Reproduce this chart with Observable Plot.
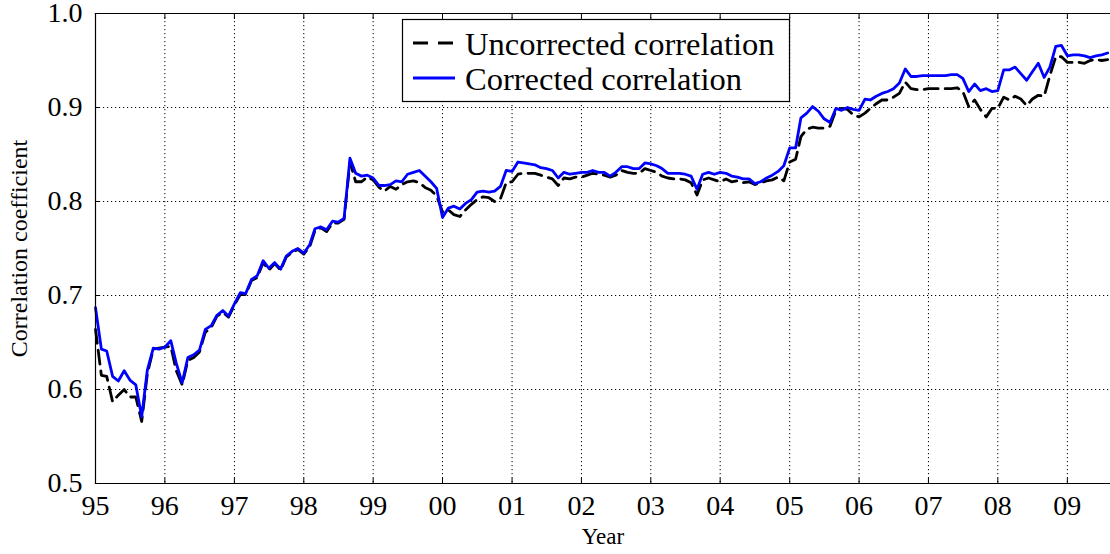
<!DOCTYPE html>
<html><head><meta charset="utf-8">
<script src="https://cdn.jsdelivr.net/npm/d3@7"></script>
<script src="https://cdn.jsdelivr.net/npm/@observablehq/plot@0.6"></script>
<style>
html,body{margin:0;padding:0;background:#fff;}
#wrap{position:relative;width:1110px;height:554px;font-family:"Liberation Serif",serif;}
#wrap svg.overlay{position:absolute;left:0;top:0;pointer-events:none;}
</style></head><body><div id="wrap"></div>
<script>
// Monthly values, Jan 1995 .. Aug 2009
const startYear = 1995;
const corrected = [
  0.687,0.643,0.641,0.614,0.609,0.620,0.610,0.605,0.571,0.621,0.644,0.643,
  0.645,0.652,0.628,0.607,0.634,0.637,0.642,0.664,0.668,0.679,0.684,0.678,
  0.691,0.703,0.702,0.717,0.721,0.737,0.729,0.735,0.728,0.742,0.747,0.750,
  0.745,0.754,0.771,0.773,0.770,0.779,0.778,0.782,0.846,0.830,0.827,0.828,
  0.825,0.817,0.817,0.818,0.822,0.821,0.829,0.831,0.833,0.827,0.821,0.814,
  0.783,0.793,0.795,0.792,0.798,0.802,0.810,0.811,0.810,0.811,0.816,0.833,
  0.832,0.842,0.841,0.840,0.839,0.836,0.835,0.833,0.825,0.831,0.829,0.830,
  0.831,0.831,0.833,0.831,0.831,0.827,0.831,0.837,0.837,0.835,0.835,0.841,
  0.840,0.838,0.835,0.830,0.830,0.830,0.829,0.827,0.813,0.829,0.831,0.829,
  0.831,0.830,0.827,0.826,0.824,0.824,0.819,0.821,0.825,0.828,0.832,0.838,
  0.857,0.857,0.889,0.894,0.901,0.896,0.888,0.884,0.899,0.897,0.900,0.898,
  0.897,0.909,0.908,0.912,0.915,0.917,0.920,0.926,0.941,0.933,0.933,0.934,
  0.934,0.934,0.934,0.934,0.935,0.935,0.931,0.917,0.925,0.918,0.920,0.917,
  0.918,0.940,0.940,0.943,0.936,0.929,0.938,0.947,0.932,0.943,0.965,0.966,
  0.955,0.956,0.956,0.955,0.953,0.955,0.956,0.958
];
const uncorrected = [
  0.664,0.615,0.614,0.587,0.594,0.600,0.592,0.592,0.566,0.617,0.643,0.644,
  0.645,0.646,0.620,0.605,0.631,0.634,0.640,0.661,0.666,0.678,0.682,0.677,
  0.690,0.701,0.701,0.716,0.719,0.735,0.727,0.734,0.727,0.741,0.746,0.749,
  0.744,0.752,0.769,0.772,0.768,0.777,0.777,0.781,0.842,0.821,0.821,0.826,
  0.823,0.815,0.811,0.816,0.813,0.818,0.821,0.822,0.820,0.815,0.812,0.806,
  0.789,0.791,0.786,0.784,0.791,0.797,0.802,0.805,0.804,0.800,0.803,0.820,
  0.821,0.829,0.830,0.830,0.830,0.828,0.826,0.824,0.817,0.825,0.824,0.826,
  0.826,0.828,0.830,0.829,0.828,0.826,0.828,0.833,0.831,0.830,0.830,0.835,
  0.833,0.831,0.827,0.825,0.824,0.824,0.823,0.820,0.807,0.823,0.825,0.823,
  0.821,0.824,0.821,0.822,0.820,0.821,0.818,0.820,0.822,0.823,0.826,0.822,
  0.842,0.845,0.869,0.877,0.879,0.878,0.878,0.880,0.897,0.899,0.898,0.892,
  0.890,0.894,0.899,0.904,0.908,0.908,0.911,0.915,0.927,0.920,0.919,0.919,
  0.920,0.920,0.920,0.920,0.920,0.921,0.917,0.901,0.908,0.898,0.890,0.899,
  0.899,0.911,0.908,0.912,0.909,0.902,0.909,0.913,0.912,0.934,0.954,0.954,
  0.948,0.948,0.948,0.947,0.950,0.951,0.950,0.951
];
const yTicks = [0.5, 0.6, 0.7, 0.8, 0.9, 1.0];
const yearTicks = d3.range(1995, 2010).map(y => new Date(Date.UTC(y, 0, 1)));
const xDomain = [new Date(Date.UTC(1995, 0, 1)), new Date(Date.UTC(2009, 7, 16))];
const seriesNames = ["Uncorrected correlation", "Corrected correlation"];
const seriesColors = ["black", "#0000ff"];
const seriesDash = ["14,7", null];

const rows = corrected.map((v, i) => ({
  date: new Date(Date.UTC(startYear, i, 1)),
  corrected: v,
  uncorrected: uncorrected[i]
}));

const dotted = {stroke: "black", strokeOpacity: 1, strokeWidth: 1, strokeDasharray: "1.2,2.8"};

const chart = Plot.plot({
  width: 1110, height: 554,
  marginLeft: 95, marginRight: 0, marginTop: 13, marginBottom: 71,
  style: {fontFamily: "'Liberation Serif', serif", background: "white", color: "black", overflow: "visible"},
  x: {type: "utc", domain: xDomain},
  y: {domain: [0.5, 1.0]},
  marks: [
    Plot.gridX(yearTicks, dotted),
    Plot.gridY(yTicks, dotted),
    Plot.axisX(yearTicks, {anchor: "bottom", tickFormat: d3.utcFormat("%y"), tickSize: 0, tickPadding: 12, fontSize: 28, label: null}),
    Plot.axisY(yTicks, {anchor: "left", tickFormat: d3.format(".1f"), tickSize: 0, tickPadding: 13, fontSize: 28, label: null}),
    Plot.axisX(yearTicks, {anchor: "top", tickSize: -5, tickFormat: () => "", label: null}),
    Plot.axisX(yearTicks, {anchor: "bottom", tickSize: -5, tickFormat: () => "", label: null}),
    Plot.axisY(yTicks, {anchor: "left", tickSize: -5, tickFormat: () => "", label: null}),
    Plot.line(rows, {x: "date", y: "uncorrected", stroke: seriesColors[0], strokeWidth: 2.8, strokeDasharray: seriesDash[0]}),
    Plot.line(rows, {x: "date", y: "corrected", stroke: seriesColors[1], strokeWidth: 2.8}),
    Plot.frame({anchor: "top", stroke: "black", strokeWidth: 1.2}),
    Plot.frame({anchor: "left", stroke: "black", strokeWidth: 1.2}),
    Plot.frame({anchor: "bottom", stroke: "black", strokeWidth: 1.2}),
    Plot.text(["Year"], {frameAnchor: "bottom", lineAnchor: "middle", textAnchor: "middle", dy: 53, fontSize: 23}),
    Plot.text(["Correlation coefficient"], {frameAnchor: "left", textAnchor: "middle", lineAnchor: "middle", dx: -76, rotate: -90, fontSize: 24})
  ]
});
const wrap = document.getElementById("wrap");
wrap.appendChild(chart);

// Legend overlay
const lg = d3.select(wrap).append("svg").attr("class", "overlay")
  .attr("width", 1110).attr("height", 554)
  .style("font-family", "'Liberation Serif', serif");
lg.append("rect").attr("x", 402.5).attr("y", 19.5).attr("width", 387).attr("height", 82)
  .attr("fill", "white").attr("stroke", "black").attr("stroke-width", 1.2);
seriesNames.forEach((name, i) => {
  const cy = 43 + i * 35;
  lg.append("line").attr("x1", 413).attr("x2", 455).attr("y1", cy).attr("y2", cy)
    .attr("stroke", seriesColors[i]).attr("stroke-width", 2.8)
    .attr("stroke-dasharray", seriesDash[i] ? "15,10" : null);
  lg.append("text").attr("x", 465).attr("y", cy + 12).attr("font-size", 32.5)
    .attr("fill", "black").text(name);
});
</script></body></html>
